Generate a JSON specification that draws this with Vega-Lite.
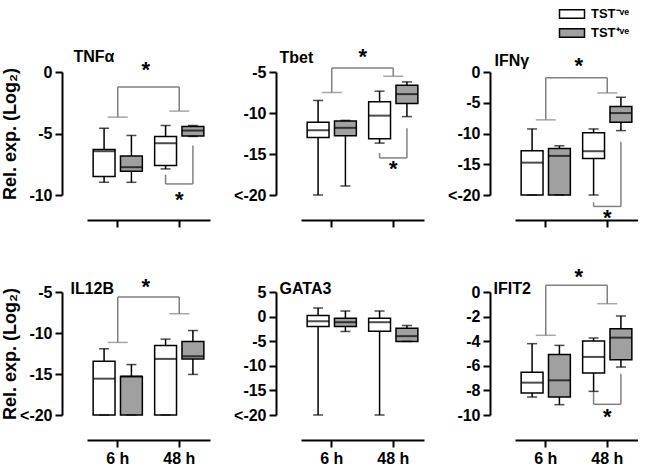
{
"$schema": "https://vega.github.io/schema/vega-lite/v6.json",
"padding": {"left": 1, "top": 3, "right": 0, "bottom": 0},
"datasets": {
"boxes": [
{"gene":"TNFα","time":"6 h","group":"TST⁻ᵛᵉ","min":-8.97,"q1":-8.5,"median":-6.44,"q3":-6.3,"max":-4.57},
{"gene":"TNFα","time":"6 h","group":"TST⁺ᵛᵉ","min":-8.97,"q1":-8.07,"median":-7.74,"q3":-6.82,"max":-5.16},
{"gene":"TNFα","time":"48 h","group":"TST⁻ᵛᵉ","min":-7.88,"q1":-7.6,"median":-5.79,"q3":-5.24,"max":-4.35},
{"gene":"TNFα","time":"48 h","group":"TST⁺ᵛᵉ","min":-5.24,"q1":-5.2,"median":-4.76,"q3":-4.43,"max":-4.35},
{"gene":"Tbet","time":"6 h","group":"TST⁻ᵛᵉ","min":-20,"q1":-12.98,"median":-12.1,"q3":-11.13,"max":-8.47},
{"gene":"Tbet","time":"6 h","group":"TST⁺ᵛᵉ","min":-18.9,"q1":-12.78,"median":-11.81,"q3":-10.97,"max":-10.9},
{"gene":"Tbet","time":"48 h","group":"TST⁻ᵛᵉ","min":-13.67,"q1":-13.15,"median":-10.32,"q3":-8.63,"max":-7.34},
{"gene":"Tbet","time":"48 h","group":"TST⁺ᵛᵉ","min":-10.44,"q1":-8.83,"median":-7.7,"q3":-6.61,"max":-6.21},
{"gene":"IFNγ","time":"6 h","group":"TST⁻ᵛᵉ","min":-20,"q1":-20,"median":-14.74,"q3":-12.82,"max":-9.26},
{"gene":"IFNγ","time":"6 h","group":"TST⁺ᵛᵉ","min":-20,"q1":-20,"median":-13.64,"q3":-12.44,"max":-12.0},
{"gene":"IFNγ","time":"48 h","group":"TST⁻ᵛᵉ","min":-20,"q1":-14.08,"median":-12.88,"q3":-9.86,"max":-9.26},
{"gene":"IFNγ","time":"48 h","group":"TST⁺ᵛᵉ","min":-9.53,"q1":-8.16,"median":-6.68,"q3":-5.59,"max":-4.11},
{"gene":"IL12B","time":"6 h","group":"TST⁻ᵛᵉ","min":-20,"q1":-20,"median":-15.57,"q3":-13.44,"max":-11.92},
{"gene":"IL12B","time":"6 h","group":"TST⁺ᵛᵉ","min":-20,"q1":-20,"median":-15.29,"q3":-15.29,"max":-13.85},
{"gene":"IL12B","time":"48 h","group":"TST⁻ᵛᵉ","min":-20,"q1":-20,"median":-13.16,"q3":-11.51,"max":-10.75},
{"gene":"IL12B","time":"48 h","group":"TST⁺ᵛᵉ","min":-15.05,"q1":-13.16,"median":-12.84,"q3":-11.03,"max":-9.7},
{"gene":"GATA3","time":"6 h","group":"TST⁻ᵛᵉ","min":-20,"q1":-2.0,"median":-0.94,"q3":0.2,"max":1.75},
{"gene":"GATA3","time":"6 h","group":"TST⁺ᵛᵉ","min":-3.02,"q1":-2.0,"median":-1.14,"q3":-0.34,"max":1.14},
{"gene":"GATA3","time":"48 h","group":"TST⁻ᵛᵉ","min":-20,"q1":-2.96,"median":-1.14,"q3":-0.34,"max":1.14},
{"gene":"GATA3","time":"48 h","group":"TST⁺ᵛᵉ","min":-5.04,"q1":-5.04,"median":-3.97,"q3":-2.35,"max":-1.81},
{"gene":"IFIT2","time":"6 h","group":"TST⁻ᵛᵉ","min":-8.54,"q1":-8.21,"median":-7.37,"q3":-6.53,"max":-4.2},
{"gene":"IFIT2","time":"6 h","group":"TST⁺ᵛᵉ","min":-9.16,"q1":-8.54,"median":-7.18,"q3":-5.09,"max":-4.34},
{"gene":"IFIT2","time":"48 h","group":"TST⁻ᵛᵉ","min":-8.08,"q1":-6.59,"median":-5.28,"q3":-3.98,"max":-3.74},
{"gene":"IFIT2","time":"48 h","group":"TST⁺ᵛᵉ","min":-6.1,"q1":-5.5,"median":-3.71,"q3":-2.98,"max":-1.95}
],
"legs": [
{"gene":"TNFα","bracket":"time","time":"6 h","hi":-1.22,"lo":-3.67},
{"gene":"TNFα","bracket":"time","time":"48 h","hi":-1.22,"lo":-3.18},
{"gene":"TNFα","bracket":"group","time":"48 h","group":"TST⁻ᵛᵉ","hi":-8.35,"lo":-9.1},
{"gene":"TNFα","bracket":"group","time":"48 h","group":"TST⁺ᵛᵉ","hi":-5.98,"lo":-9.1},
{"gene":"Tbet","bracket":"time","time":"6 h","hi":-4.52,"lo":-7.5},
{"gene":"Tbet","bracket":"time","time":"48 h","hi":-4.52,"lo":-5.52},
{"gene":"Tbet","bracket":"group","time":"48 h","group":"TST⁻ᵛᵉ","hi":-14.88,"lo":-15.48},
{"gene":"Tbet","bracket":"group","time":"48 h","group":"TST⁺ᵛᵉ","hi":-11.85,"lo":-15.48},
{"gene":"IFNγ","bracket":"time","time":"6 h","hi":-0.93,"lo":-7.78},
{"gene":"IFNγ","bracket":"time","time":"48 h","hi":-0.93,"lo":-3.4},
{"gene":"IFNγ","bracket":"group","time":"48 h","group":"TST⁻ᵛᵉ","hi":-21.2,"lo":-21.86},
{"gene":"IFNγ","bracket":"group","time":"48 h","group":"TST⁺ᵛᵉ","hi":-11.34,"lo":-21.86},
{"gene":"IL12B","bracket":"time","time":"6 h","hi":-5.6,"lo":-11.15},
{"gene":"IL12B","bracket":"time","time":"48 h","hi":-5.6,"lo":-7.65},
{"gene":"IFIT2","bracket":"time","time":"6 h","hi":0.54,"lo":-3.52},
{"gene":"IFIT2","bracket":"time","time":"48 h","hi":0.54,"lo":-0.95},
{"gene":"IFIT2","bracket":"group","time":"48 h","group":"TST⁻ᵛᵉ","hi":-8.13,"lo":-9.13},
{"gene":"IFIT2","bracket":"group","time":"48 h","group":"TST⁺ᵛᵉ","hi":-6.64,"lo":-9.13}
],
"stars": [
{"gene":"TNFα","kind":"time","time":"6 h","y":0.41,"label":"*"},
{"gene":"TNFα","kind":"group","time":"48 h","y":-10.2,"label":"*"},
{"gene":"Tbet","kind":"time","time":"6 h","y":-2.78,"label":"*"},
{"gene":"Tbet","kind":"group","time":"48 h","y":-16.5,"label":"*"},
{"gene":"IFNγ","kind":"time","time":"6 h","y":1.53,"label":"*"},
{"gene":"IFNγ","kind":"group","time":"48 h","y":-23.3,"label":"*"},
{"gene":"IL12B","kind":"time","time":"6 h","y":-4.0,"label":"*"},
{"gene":"IFIT2","kind":"time","time":"6 h","y":1.44,"label":"*"},
{"gene":"IFIT2","kind":"group","time":"48 h","y":-9.9,"label":"*"}
]
},
"columns": 3,
"spacing": {"row": 97, "column": 91},
"bounds": "flush",
"concat": [
{
"width": 123, "height": 123,
"encoding": {"x": {"field":"time","type":"nominal","sort":["6 h","48 h"],"scale":{"domain":["6 h","48 h"],"paddingInner":0.2,"paddingOuter":0.1},"title":"TNFα","axis":{"labels":false,"titleX":-14,"titleY":-159,"titleAlign":"left","titleBaseline":"alphabetic","titleAngle":0}}},
"layer": [
{"data":{"name":"boxes"},"transform":[{"filter":"datum.gene === 'TNFα'"}],"mark":{"type":"rule","color":"black","strokeWidth":1.5},
 "encoding":{"xOffset":{"field":"group","type":"nominal","sort":["TST⁻ᵛᵉ","TST⁺ᵛᵉ"],"scale":{"domain":["TST⁻ᵛᵉ","TST⁺ᵛᵉ"],"paddingInner":0.2,"paddingOuter":0}},
 "y":{"field":"min","type":"quantitative","scale":{"domain":[-10,0],"nice":false,"zero":false},"title":"Rel. exp. (Log₂)","axis":{"values":[0,-5,-10],"tickCount":12,"labelOverlap":false,"labelExpr":"datum.value <= -20 ? '<-20' : '' + datum.value","titleX":-47,"titleBaseline":"alphabetic"}},"y2":{"field":"max"}}},
{"data":{"name":"boxes"},"transform":[{"filter":"datum.gene === 'TNFα'"}],"mark":{"type":"bar","stroke":"black","strokeWidth":1.5},
 "encoding":{"xOffset":{"field":"group","type":"nominal","sort":["TST⁻ᵛᵉ","TST⁺ᵛᵉ"],"scale":{"domain":["TST⁻ᵛᵉ","TST⁺ᵛᵉ"],"paddingInner":0.2,"paddingOuter":0}},
 "y":{"field":"q1","type":"quantitative","scale":{"domain":[-10,0],"nice":false,"zero":false},"title":"Rel. exp. (Log₂)"},"y2":{"field":"q3"},
 "fill":{"field":"group","type":"nominal","sort":["TST⁻ᵛᵉ","TST⁺ᵛᵉ"],"scale":{"domain":["TST⁻ᵛᵉ","TST⁺ᵛᵉ"],"range":["white","#a0a0a0"]},"title":null,"legend":{"orient":"none","legendX":474,"legendY":-69}}}},
{"data":{"name":"boxes"},"transform":[{"filter":"datum.gene === 'TNFα'"}],"mark":{"type":"tick","color":"black","size":10,"thickness":1.5},
 "encoding":{"xOffset":{"field":"group","type":"nominal","sort":["TST⁻ᵛᵉ","TST⁺ᵛᵉ"],"scale":{"domain":["TST⁻ᵛᵉ","TST⁺ᵛᵉ"],"paddingInner":0.2,"paddingOuter":0}},
 "y":{"field":"min","type":"quantitative","scale":{"domain":[-10,0],"nice":false,"zero":false},"title":"Rel. exp. (Log₂)"}}},
{"data":{"name":"boxes"},"transform":[{"filter":"datum.gene === 'TNFα'"}],"mark":{"type":"tick","color":"black","size":10,"thickness":1.5},
 "encoding":{"xOffset":{"field":"group","type":"nominal","sort":["TST⁻ᵛᵉ","TST⁺ᵛᵉ"],"scale":{"domain":["TST⁻ᵛᵉ","TST⁺ᵛᵉ"],"paddingInner":0.2,"paddingOuter":0}},
 "y":{"field":"max","type":"quantitative","scale":{"domain":[-10,0],"nice":false,"zero":false},"title":"Rel. exp. (Log₂)"}}},
{"data":{"name":"boxes"},"transform":[{"filter":"datum.gene === 'TNFα'"}],"mark":{"type":"tick","color":"black","size":22,"thickness":2},
 "encoding":{"xOffset":{"field":"group","type":"nominal","sort":["TST⁻ᵛᵉ","TST⁺ᵛᵉ"],"scale":{"domain":["TST⁻ᵛᵉ","TST⁺ᵛᵉ"],"paddingInner":0.2,"paddingOuter":0}},
 "y":{"field":"median","type":"quantitative","scale":{"domain":[-10,0],"nice":false,"zero":false},"title":"Rel. exp. (Log₂)"}}},
{"data":{"name":"legs"},"transform":[{"filter":"datum.gene === 'TNFα' && datum.bracket === 'time'"}],"mark":{"type":"rule","color":"#808080","strokeWidth":1.5},
 "encoding":{"y":{"field":"hi","type":"quantitative","scale":{"domain":[-10,0],"nice":false,"zero":false},"title":"Rel. exp. (Log₂)"},"y2":{"field":"lo"}}},
{"data":{"name":"legs"},"transform":[{"filter":"datum.gene === 'TNFα' && datum.bracket === 'time'"}],"mark":{"type":"tick","color":"#808080","size":20,"thickness":1.5},
 "encoding":{"y":{"field":"lo","type":"quantitative","scale":{"domain":[-10,0],"nice":false,"zero":false},"title":"Rel. exp. (Log₂)"}}},
{"data":{"name":"legs"},"transform":[{"filter":"datum.gene === 'TNFα' && datum.bracket === 'time'"}],"mark":{"type":"line","color":"#808080","strokeWidth":1.5},
 "encoding":{"y":{"field":"hi","type":"quantitative","scale":{"domain":[-10,0],"nice":false,"zero":false},"title":"Rel. exp. (Log₂)"}}},
{"data":{"name":"legs"},"transform":[{"filter":"datum.gene === 'TNFα' && datum.bracket === 'group'"}],"mark":{"type":"rule","color":"#808080","strokeWidth":1.5},
 "encoding":{"xOffset":{"field":"group","type":"nominal","sort":["TST⁻ᵛᵉ","TST⁺ᵛᵉ"],"scale":{"domain":["TST⁻ᵛᵉ","TST⁺ᵛᵉ"],"paddingInner":0.2,"paddingOuter":0}},
 "y":{"field":"hi","type":"quantitative","scale":{"domain":[-10,0],"nice":false,"zero":false},"title":"Rel. exp. (Log₂)"},"y2":{"field":"lo"}}},
{"data":{"name":"legs"},"transform":[{"filter":"datum.gene === 'TNFα' && datum.bracket === 'group'"}],"mark":{"type":"line","color":"#808080","strokeWidth":1.5},
 "encoding":{"xOffset":{"field":"group","type":"nominal","sort":["TST⁻ᵛᵉ","TST⁺ᵛᵉ"],"scale":{"domain":["TST⁻ᵛᵉ","TST⁺ᵛᵉ"],"paddingInner":0.2,"paddingOuter":0}},
 "y":{"field":"lo","type":"quantitative","scale":{"domain":[-10,0],"nice":false,"zero":false},"title":"Rel. exp. (Log₂)"}}},
{"data":{"name":"stars"},"transform":[{"filter":"datum.gene === 'TNFα' && datum.kind === 'time'"}],"mark":{"type":"text","fontSize":22,"fontWeight":"bold","font":"Liberation Sans","color":"black","dx":28,"dy":3},
 "encoding":{"y":{"field":"y","type":"quantitative","scale":{"domain":[-10,0],"nice":false,"zero":false},"title":"Rel. exp. (Log₂)"},"text":{"field":"label"}}},
{"data":{"name":"stars"},"transform":[{"filter":"datum.gene === 'TNFα' && datum.kind === 'group'"}],"mark":{"type":"text","fontSize":22,"fontWeight":"bold","font":"Liberation Sans","color":"black","dy":3},
 "encoding":{"y":{"field":"y","type":"quantitative","scale":{"domain":[-10,0],"nice":false,"zero":false},"title":"Rel. exp. (Log₂)"},"text":{"field":"label"}}}
]
},
{
"width": 123, "height": 123,
"encoding": {"x": {"field":"time","type":"nominal","sort":["6 h","48 h"],"scale":{"domain":["6 h","48 h"],"paddingInner":0.2,"paddingOuter":0.1},"title":"Tbet","axis":{"labels":false,"titleX":-22,"titleY":-158,"titleAlign":"left","titleBaseline":"alphabetic","titleAngle":0}}},
"layer": [
{"data":{"name":"boxes"},"transform":[{"filter":"datum.gene === 'Tbet'"}],"mark":{"type":"rule","color":"black","strokeWidth":1.5},
 "encoding":{"xOffset":{"field":"group","type":"nominal","sort":["TST⁻ᵛᵉ","TST⁺ᵛᵉ"],"scale":{"domain":["TST⁻ᵛᵉ","TST⁺ᵛᵉ"],"paddingInner":0.2,"paddingOuter":0}},
 "y":{"field":"min","type":"quantitative","scale":{"domain":[-20,-5],"nice":false,"zero":false},"title":null,"axis":{"values":[-5,-10,-15,-20],"tickCount":12,"labelOverlap":false,"labelExpr":"datum.value <= -20 ? '<-20' : '' + datum.value"}},"y2":{"field":"max"}}},
{"data":{"name":"boxes"},"transform":[{"filter":"datum.gene === 'Tbet'"}],"mark":{"type":"bar","stroke":"black","strokeWidth":1.5},
 "encoding":{"xOffset":{"field":"group","type":"nominal","sort":["TST⁻ᵛᵉ","TST⁺ᵛᵉ"],"scale":{"domain":["TST⁻ᵛᵉ","TST⁺ᵛᵉ"],"paddingInner":0.2,"paddingOuter":0}},
 "y":{"field":"q1","type":"quantitative","scale":{"domain":[-20,-5],"nice":false,"zero":false},"title":null},"y2":{"field":"q3"},
 "fill":{"field":"group","type":"nominal","sort":["TST⁻ᵛᵉ","TST⁺ᵛᵉ"],"scale":{"domain":["TST⁻ᵛᵉ","TST⁺ᵛᵉ"],"range":["white","#a0a0a0"]},"title":null,"legend":{"orient":"none","legendX":474,"legendY":-69}}}},
{"data":{"name":"boxes"},"transform":[{"filter":"datum.gene === 'Tbet'"}],"mark":{"type":"tick","color":"black","size":10,"thickness":1.5},
 "encoding":{"xOffset":{"field":"group","type":"nominal","sort":["TST⁻ᵛᵉ","TST⁺ᵛᵉ"],"scale":{"domain":["TST⁻ᵛᵉ","TST⁺ᵛᵉ"],"paddingInner":0.2,"paddingOuter":0}},
 "y":{"field":"min","type":"quantitative","scale":{"domain":[-20,-5],"nice":false,"zero":false},"title":null}}},
{"data":{"name":"boxes"},"transform":[{"filter":"datum.gene === 'Tbet'"}],"mark":{"type":"tick","color":"black","size":10,"thickness":1.5},
 "encoding":{"xOffset":{"field":"group","type":"nominal","sort":["TST⁻ᵛᵉ","TST⁺ᵛᵉ"],"scale":{"domain":["TST⁻ᵛᵉ","TST⁺ᵛᵉ"],"paddingInner":0.2,"paddingOuter":0}},
 "y":{"field":"max","type":"quantitative","scale":{"domain":[-20,-5],"nice":false,"zero":false},"title":null}}},
{"data":{"name":"boxes"},"transform":[{"filter":"datum.gene === 'Tbet'"}],"mark":{"type":"tick","color":"black","size":22,"thickness":2},
 "encoding":{"xOffset":{"field":"group","type":"nominal","sort":["TST⁻ᵛᵉ","TST⁺ᵛᵉ"],"scale":{"domain":["TST⁻ᵛᵉ","TST⁺ᵛᵉ"],"paddingInner":0.2,"paddingOuter":0}},
 "y":{"field":"median","type":"quantitative","scale":{"domain":[-20,-5],"nice":false,"zero":false},"title":null}}},
{"data":{"name":"legs"},"transform":[{"filter":"datum.gene === 'Tbet' && datum.bracket === 'time'"}],"mark":{"type":"rule","color":"#808080","strokeWidth":1.5},
 "encoding":{"y":{"field":"hi","type":"quantitative","scale":{"domain":[-20,-5],"nice":false,"zero":false},"title":null},"y2":{"field":"lo"}}},
{"data":{"name":"legs"},"transform":[{"filter":"datum.gene === 'Tbet' && datum.bracket === 'time'"}],"mark":{"type":"tick","color":"#808080","size":20,"thickness":1.5},
 "encoding":{"y":{"field":"lo","type":"quantitative","scale":{"domain":[-20,-5],"nice":false,"zero":false},"title":null}}},
{"data":{"name":"legs"},"transform":[{"filter":"datum.gene === 'Tbet' && datum.bracket === 'time'"}],"mark":{"type":"line","color":"#808080","strokeWidth":1.5},
 "encoding":{"y":{"field":"hi","type":"quantitative","scale":{"domain":[-20,-5],"nice":false,"zero":false},"title":null}}},
{"data":{"name":"legs"},"transform":[{"filter":"datum.gene === 'Tbet' && datum.bracket === 'group'"}],"mark":{"type":"rule","color":"#808080","strokeWidth":1.5},
 "encoding":{"xOffset":{"field":"group","type":"nominal","sort":["TST⁻ᵛᵉ","TST⁺ᵛᵉ"],"scale":{"domain":["TST⁻ᵛᵉ","TST⁺ᵛᵉ"],"paddingInner":0.2,"paddingOuter":0}},
 "y":{"field":"hi","type":"quantitative","scale":{"domain":[-20,-5],"nice":false,"zero":false},"title":null},"y2":{"field":"lo"}}},
{"data":{"name":"legs"},"transform":[{"filter":"datum.gene === 'Tbet' && datum.bracket === 'group'"}],"mark":{"type":"line","color":"#808080","strokeWidth":1.5},
 "encoding":{"xOffset":{"field":"group","type":"nominal","sort":["TST⁻ᵛᵉ","TST⁺ᵛᵉ"],"scale":{"domain":["TST⁻ᵛᵉ","TST⁺ᵛᵉ"],"paddingInner":0.2,"paddingOuter":0}},
 "y":{"field":"lo","type":"quantitative","scale":{"domain":[-20,-5],"nice":false,"zero":false},"title":null}}},
{"data":{"name":"stars"},"transform":[{"filter":"datum.gene === 'Tbet' && datum.kind === 'time'"}],"mark":{"type":"text","fontSize":22,"fontWeight":"bold","font":"Liberation Sans","color":"black","dx":31,"dy":3},
 "encoding":{"y":{"field":"y","type":"quantitative","scale":{"domain":[-20,-5],"nice":false,"zero":false},"title":null},"text":{"field":"label"}}},
{"data":{"name":"stars"},"transform":[{"filter":"datum.gene === 'Tbet' && datum.kind === 'group'"}],"mark":{"type":"text","fontSize":22,"fontWeight":"bold","font":"Liberation Sans","color":"black","dy":3},
 "encoding":{"y":{"field":"y","type":"quantitative","scale":{"domain":[-20,-5],"nice":false,"zero":false},"title":null},"text":{"field":"label"}}}
]
},
{
"width": 123, "height": 123,
"encoding": {"x": {"field":"time","type":"nominal","sort":["6 h","48 h"],"scale":{"domain":["6 h","48 h"],"paddingInner":0.2,"paddingOuter":0.1},"title":"IFNγ","axis":{"labels":false,"titleX":-21,"titleY":-155,"titleAlign":"left","titleBaseline":"alphabetic","titleAngle":0}}},
"layer": [
{"data":{"name":"boxes"},"transform":[{"filter":"datum.gene === 'IFNγ'"}],"mark":{"type":"rule","color":"black","strokeWidth":1.5},
 "encoding":{"xOffset":{"field":"group","type":"nominal","sort":["TST⁻ᵛᵉ","TST⁺ᵛᵉ"],"scale":{"domain":["TST⁻ᵛᵉ","TST⁺ᵛᵉ"],"paddingInner":0.2,"paddingOuter":0}},
 "y":{"field":"min","type":"quantitative","scale":{"domain":[-20,0],"nice":false,"zero":false},"title":null,"axis":{"values":[0,-5,-10,-15,-20],"tickCount":12,"labelOverlap":false,"labelExpr":"datum.value <= -20 ? '<-20' : '' + datum.value"}},"y2":{"field":"max"}}},
{"data":{"name":"boxes"},"transform":[{"filter":"datum.gene === 'IFNγ'"}],"mark":{"type":"bar","stroke":"black","strokeWidth":1.5},
 "encoding":{"xOffset":{"field":"group","type":"nominal","sort":["TST⁻ᵛᵉ","TST⁺ᵛᵉ"],"scale":{"domain":["TST⁻ᵛᵉ","TST⁺ᵛᵉ"],"paddingInner":0.2,"paddingOuter":0}},
 "y":{"field":"q1","type":"quantitative","scale":{"domain":[-20,0],"nice":false,"zero":false},"title":null},"y2":{"field":"q3"},
 "fill":{"field":"group","type":"nominal","sort":["TST⁻ᵛᵉ","TST⁺ᵛᵉ"],"scale":{"domain":["TST⁻ᵛᵉ","TST⁺ᵛᵉ"],"range":["white","#a0a0a0"]},"title":null,"legend":{"orient":"none","legendX":474,"legendY":-69}}}},
{"data":{"name":"boxes"},"transform":[{"filter":"datum.gene === 'IFNγ'"}],"mark":{"type":"tick","color":"black","size":10,"thickness":1.5},
 "encoding":{"xOffset":{"field":"group","type":"nominal","sort":["TST⁻ᵛᵉ","TST⁺ᵛᵉ"],"scale":{"domain":["TST⁻ᵛᵉ","TST⁺ᵛᵉ"],"paddingInner":0.2,"paddingOuter":0}},
 "y":{"field":"min","type":"quantitative","scale":{"domain":[-20,0],"nice":false,"zero":false},"title":null}}},
{"data":{"name":"boxes"},"transform":[{"filter":"datum.gene === 'IFNγ'"}],"mark":{"type":"tick","color":"black","size":10,"thickness":1.5},
 "encoding":{"xOffset":{"field":"group","type":"nominal","sort":["TST⁻ᵛᵉ","TST⁺ᵛᵉ"],"scale":{"domain":["TST⁻ᵛᵉ","TST⁺ᵛᵉ"],"paddingInner":0.2,"paddingOuter":0}},
 "y":{"field":"max","type":"quantitative","scale":{"domain":[-20,0],"nice":false,"zero":false},"title":null}}},
{"data":{"name":"boxes"},"transform":[{"filter":"datum.gene === 'IFNγ'"}],"mark":{"type":"tick","color":"black","size":22,"thickness":2},
 "encoding":{"xOffset":{"field":"group","type":"nominal","sort":["TST⁻ᵛᵉ","TST⁺ᵛᵉ"],"scale":{"domain":["TST⁻ᵛᵉ","TST⁺ᵛᵉ"],"paddingInner":0.2,"paddingOuter":0}},
 "y":{"field":"median","type":"quantitative","scale":{"domain":[-20,0],"nice":false,"zero":false},"title":null}}},
{"data":{"name":"legs"},"transform":[{"filter":"datum.gene === 'IFNγ' && datum.bracket === 'time'"}],"mark":{"type":"rule","color":"#808080","strokeWidth":1.5},
 "encoding":{"y":{"field":"hi","type":"quantitative","scale":{"domain":[-20,0],"nice":false,"zero":false},"title":null},"y2":{"field":"lo"}}},
{"data":{"name":"legs"},"transform":[{"filter":"datum.gene === 'IFNγ' && datum.bracket === 'time'"}],"mark":{"type":"tick","color":"#808080","size":20,"thickness":1.5},
 "encoding":{"y":{"field":"lo","type":"quantitative","scale":{"domain":[-20,0],"nice":false,"zero":false},"title":null}}},
{"data":{"name":"legs"},"transform":[{"filter":"datum.gene === 'IFNγ' && datum.bracket === 'time'"}],"mark":{"type":"line","color":"#808080","strokeWidth":1.5},
 "encoding":{"y":{"field":"hi","type":"quantitative","scale":{"domain":[-20,0],"nice":false,"zero":false},"title":null}}},
{"data":{"name":"legs"},"transform":[{"filter":"datum.gene === 'IFNγ' && datum.bracket === 'group'"}],"mark":{"type":"rule","color":"#808080","strokeWidth":1.5},
 "encoding":{"xOffset":{"field":"group","type":"nominal","sort":["TST⁻ᵛᵉ","TST⁺ᵛᵉ"],"scale":{"domain":["TST⁻ᵛᵉ","TST⁺ᵛᵉ"],"paddingInner":0.2,"paddingOuter":0}},
 "y":{"field":"hi","type":"quantitative","scale":{"domain":[-20,0],"nice":false,"zero":false},"title":null},"y2":{"field":"lo"}}},
{"data":{"name":"legs"},"transform":[{"filter":"datum.gene === 'IFNγ' && datum.bracket === 'group'"}],"mark":{"type":"line","color":"#808080","strokeWidth":1.5},
 "encoding":{"xOffset":{"field":"group","type":"nominal","sort":["TST⁻ᵛᵉ","TST⁺ᵛᵉ"],"scale":{"domain":["TST⁻ᵛᵉ","TST⁺ᵛᵉ"],"paddingInner":0.2,"paddingOuter":0}},
 "y":{"field":"lo","type":"quantitative","scale":{"domain":[-20,0],"nice":false,"zero":false},"title":null}}},
{"data":{"name":"stars"},"transform":[{"filter":"datum.gene === 'IFNγ' && datum.kind === 'time'"}],"mark":{"type":"text","fontSize":22,"fontWeight":"bold","font":"Liberation Sans","color":"black","dx":33,"dy":3},
 "encoding":{"y":{"field":"y","type":"quantitative","scale":{"domain":[-20,0],"nice":false,"zero":false},"title":null},"text":{"field":"label"}}},
{"data":{"name":"stars"},"transform":[{"filter":"datum.gene === 'IFNγ' && datum.kind === 'group'"}],"mark":{"type":"text","fontSize":22,"fontWeight":"bold","font":"Liberation Sans","color":"black","dy":3},
 "encoding":{"y":{"field":"y","type":"quantitative","scale":{"domain":[-20,0],"nice":false,"zero":false},"title":null},"text":{"field":"label"}}}
]
},
{
"width": 123, "height": 123,
"encoding": {"x": {"field":"time","type":"nominal","sort":["6 h","48 h"],"scale":{"domain":["6 h","48 h"],"paddingInner":0.2,"paddingOuter":0.1},"title":"IL12B","axis":{"labels":true,"titleX":-17,"titleY":-147,"titleAlign":"left","titleBaseline":"alphabetic","titleAngle":0}}},
"layer": [
{"data":{"name":"boxes"},"transform":[{"filter":"datum.gene === 'IL12B'"}],"mark":{"type":"rule","color":"black","strokeWidth":1.5},
 "encoding":{"xOffset":{"field":"group","type":"nominal","sort":["TST⁻ᵛᵉ","TST⁺ᵛᵉ"],"scale":{"domain":["TST⁻ᵛᵉ","TST⁺ᵛᵉ"],"paddingInner":0.2,"paddingOuter":0}},
 "y":{"field":"min","type":"quantitative","scale":{"domain":[-20,-5],"nice":false,"zero":false},"title":"Rel. exp. (Log₂)","axis":{"values":[-5,-10,-15,-20],"tickCount":12,"labelOverlap":false,"labelExpr":"datum.value <= -20 ? '<-20' : '' + datum.value","titleX":-47,"titleBaseline":"alphabetic"}},"y2":{"field":"max"}}},
{"data":{"name":"boxes"},"transform":[{"filter":"datum.gene === 'IL12B'"}],"mark":{"type":"bar","stroke":"black","strokeWidth":1.5},
 "encoding":{"xOffset":{"field":"group","type":"nominal","sort":["TST⁻ᵛᵉ","TST⁺ᵛᵉ"],"scale":{"domain":["TST⁻ᵛᵉ","TST⁺ᵛᵉ"],"paddingInner":0.2,"paddingOuter":0}},
 "y":{"field":"q1","type":"quantitative","scale":{"domain":[-20,-5],"nice":false,"zero":false},"title":"Rel. exp. (Log₂)"},"y2":{"field":"q3"},
 "fill":{"field":"group","type":"nominal","sort":["TST⁻ᵛᵉ","TST⁺ᵛᵉ"],"scale":{"domain":["TST⁻ᵛᵉ","TST⁺ᵛᵉ"],"range":["white","#a0a0a0"]},"title":null,"legend":{"orient":"none","legendX":474,"legendY":-69}}}},
{"data":{"name":"boxes"},"transform":[{"filter":"datum.gene === 'IL12B'"}],"mark":{"type":"tick","color":"black","size":10,"thickness":1.5},
 "encoding":{"xOffset":{"field":"group","type":"nominal","sort":["TST⁻ᵛᵉ","TST⁺ᵛᵉ"],"scale":{"domain":["TST⁻ᵛᵉ","TST⁺ᵛᵉ"],"paddingInner":0.2,"paddingOuter":0}},
 "y":{"field":"min","type":"quantitative","scale":{"domain":[-20,-5],"nice":false,"zero":false},"title":"Rel. exp. (Log₂)"}}},
{"data":{"name":"boxes"},"transform":[{"filter":"datum.gene === 'IL12B'"}],"mark":{"type":"tick","color":"black","size":10,"thickness":1.5},
 "encoding":{"xOffset":{"field":"group","type":"nominal","sort":["TST⁻ᵛᵉ","TST⁺ᵛᵉ"],"scale":{"domain":["TST⁻ᵛᵉ","TST⁺ᵛᵉ"],"paddingInner":0.2,"paddingOuter":0}},
 "y":{"field":"max","type":"quantitative","scale":{"domain":[-20,-5],"nice":false,"zero":false},"title":"Rel. exp. (Log₂)"}}},
{"data":{"name":"boxes"},"transform":[{"filter":"datum.gene === 'IL12B'"}],"mark":{"type":"tick","color":"black","size":22,"thickness":2},
 "encoding":{"xOffset":{"field":"group","type":"nominal","sort":["TST⁻ᵛᵉ","TST⁺ᵛᵉ"],"scale":{"domain":["TST⁻ᵛᵉ","TST⁺ᵛᵉ"],"paddingInner":0.2,"paddingOuter":0}},
 "y":{"field":"median","type":"quantitative","scale":{"domain":[-20,-5],"nice":false,"zero":false},"title":"Rel. exp. (Log₂)"}}},
{"data":{"name":"legs"},"transform":[{"filter":"datum.gene === 'IL12B' && datum.bracket === 'time'"}],"mark":{"type":"rule","color":"#808080","strokeWidth":1.5},
 "encoding":{"y":{"field":"hi","type":"quantitative","scale":{"domain":[-20,-5],"nice":false,"zero":false},"title":"Rel. exp. (Log₂)"},"y2":{"field":"lo"}}},
{"data":{"name":"legs"},"transform":[{"filter":"datum.gene === 'IL12B' && datum.bracket === 'time'"}],"mark":{"type":"tick","color":"#808080","size":20,"thickness":1.5},
 "encoding":{"y":{"field":"lo","type":"quantitative","scale":{"domain":[-20,-5],"nice":false,"zero":false},"title":"Rel. exp. (Log₂)"}}},
{"data":{"name":"legs"},"transform":[{"filter":"datum.gene === 'IL12B' && datum.bracket === 'time'"}],"mark":{"type":"line","color":"#808080","strokeWidth":1.5},
 "encoding":{"y":{"field":"hi","type":"quantitative","scale":{"domain":[-20,-5],"nice":false,"zero":false},"title":"Rel. exp. (Log₂)"}}},
{"data":{"name":"stars"},"transform":[{"filter":"datum.gene === 'IL12B' && datum.kind === 'time'"}],"mark":{"type":"text","fontSize":22,"fontWeight":"bold","font":"Liberation Sans","color":"black","dx":28,"dy":3},
 "encoding":{"y":{"field":"y","type":"quantitative","scale":{"domain":[-20,-5],"nice":false,"zero":false},"title":"Rel. exp. (Log₂)"},"text":{"field":"label"}}}
]
},
{
"width": 123, "height": 123,
"encoding": {"x": {"field":"time","type":"nominal","sort":["6 h","48 h"],"scale":{"domain":["6 h","48 h"],"paddingInner":0.2,"paddingOuter":0.1},"title":"GATA3","axis":{"labels":true,"titleX":-22,"titleY":-147,"titleAlign":"left","titleBaseline":"alphabetic","titleAngle":0}}},
"layer": [
{"data":{"name":"boxes"},"transform":[{"filter":"datum.gene === 'GATA3'"}],"mark":{"type":"rule","color":"black","strokeWidth":1.5},
 "encoding":{"xOffset":{"field":"group","type":"nominal","sort":["TST⁻ᵛᵉ","TST⁺ᵛᵉ"],"scale":{"domain":["TST⁻ᵛᵉ","TST⁺ᵛᵉ"],"paddingInner":0.2,"paddingOuter":0}},
 "y":{"field":"min","type":"quantitative","scale":{"domain":[-20,5],"nice":false,"zero":false},"title":null,"axis":{"values":[5,0,-5,-10,-15,-20],"tickCount":12,"labelOverlap":false,"labelExpr":"datum.value <= -20 ? '<-20' : '' + datum.value"}},"y2":{"field":"max"}}},
{"data":{"name":"boxes"},"transform":[{"filter":"datum.gene === 'GATA3'"}],"mark":{"type":"bar","stroke":"black","strokeWidth":1.5},
 "encoding":{"xOffset":{"field":"group","type":"nominal","sort":["TST⁻ᵛᵉ","TST⁺ᵛᵉ"],"scale":{"domain":["TST⁻ᵛᵉ","TST⁺ᵛᵉ"],"paddingInner":0.2,"paddingOuter":0}},
 "y":{"field":"q1","type":"quantitative","scale":{"domain":[-20,5],"nice":false,"zero":false},"title":null},"y2":{"field":"q3"},
 "fill":{"field":"group","type":"nominal","sort":["TST⁻ᵛᵉ","TST⁺ᵛᵉ"],"scale":{"domain":["TST⁻ᵛᵉ","TST⁺ᵛᵉ"],"range":["white","#a0a0a0"]},"title":null,"legend":{"orient":"none","legendX":474,"legendY":-69}}}},
{"data":{"name":"boxes"},"transform":[{"filter":"datum.gene === 'GATA3'"}],"mark":{"type":"tick","color":"black","size":10,"thickness":1.5},
 "encoding":{"xOffset":{"field":"group","type":"nominal","sort":["TST⁻ᵛᵉ","TST⁺ᵛᵉ"],"scale":{"domain":["TST⁻ᵛᵉ","TST⁺ᵛᵉ"],"paddingInner":0.2,"paddingOuter":0}},
 "y":{"field":"min","type":"quantitative","scale":{"domain":[-20,5],"nice":false,"zero":false},"title":null}}},
{"data":{"name":"boxes"},"transform":[{"filter":"datum.gene === 'GATA3'"}],"mark":{"type":"tick","color":"black","size":10,"thickness":1.5},
 "encoding":{"xOffset":{"field":"group","type":"nominal","sort":["TST⁻ᵛᵉ","TST⁺ᵛᵉ"],"scale":{"domain":["TST⁻ᵛᵉ","TST⁺ᵛᵉ"],"paddingInner":0.2,"paddingOuter":0}},
 "y":{"field":"max","type":"quantitative","scale":{"domain":[-20,5],"nice":false,"zero":false},"title":null}}},
{"data":{"name":"boxes"},"transform":[{"filter":"datum.gene === 'GATA3'"}],"mark":{"type":"tick","color":"black","size":22,"thickness":2},
 "encoding":{"xOffset":{"field":"group","type":"nominal","sort":["TST⁻ᵛᵉ","TST⁺ᵛᵉ"],"scale":{"domain":["TST⁻ᵛᵉ","TST⁺ᵛᵉ"],"paddingInner":0.2,"paddingOuter":0}},
 "y":{"field":"median","type":"quantitative","scale":{"domain":[-20,5],"nice":false,"zero":false},"title":null}}}
]
},
{
"width": 123, "height": 123,
"encoding": {"x": {"field":"time","type":"nominal","sort":["6 h","48 h"],"scale":{"domain":["6 h","48 h"],"paddingInner":0.2,"paddingOuter":0.1},"title":"IFIT2","axis":{"labels":true,"titleX":-22,"titleY":-147,"titleAlign":"left","titleBaseline":"alphabetic","titleAngle":0}}},
"layer": [
{"data":{"name":"boxes"},"transform":[{"filter":"datum.gene === 'IFIT2'"}],"mark":{"type":"rule","color":"black","strokeWidth":1.5},
 "encoding":{"xOffset":{"field":"group","type":"nominal","sort":["TST⁻ᵛᵉ","TST⁺ᵛᵉ"],"scale":{"domain":["TST⁻ᵛᵉ","TST⁺ᵛᵉ"],"paddingInner":0.2,"paddingOuter":0}},
 "y":{"field":"min","type":"quantitative","scale":{"domain":[-10,0],"nice":false,"zero":false},"title":null,"axis":{"values":[0,-2,-4,-6,-8,-10],"tickCount":12,"labelOverlap":false,"labelExpr":"datum.value <= -20 ? '<-20' : '' + datum.value"}},"y2":{"field":"max"}}},
{"data":{"name":"boxes"},"transform":[{"filter":"datum.gene === 'IFIT2'"}],"mark":{"type":"bar","stroke":"black","strokeWidth":1.5},
 "encoding":{"xOffset":{"field":"group","type":"nominal","sort":["TST⁻ᵛᵉ","TST⁺ᵛᵉ"],"scale":{"domain":["TST⁻ᵛᵉ","TST⁺ᵛᵉ"],"paddingInner":0.2,"paddingOuter":0}},
 "y":{"field":"q1","type":"quantitative","scale":{"domain":[-10,0],"nice":false,"zero":false},"title":null},"y2":{"field":"q3"},
 "fill":{"field":"group","type":"nominal","sort":["TST⁻ᵛᵉ","TST⁺ᵛᵉ"],"scale":{"domain":["TST⁻ᵛᵉ","TST⁺ᵛᵉ"],"range":["white","#a0a0a0"]},"title":null,"legend":{"orient":"none","legendX":474,"legendY":-69}}}},
{"data":{"name":"boxes"},"transform":[{"filter":"datum.gene === 'IFIT2'"}],"mark":{"type":"tick","color":"black","size":10,"thickness":1.5},
 "encoding":{"xOffset":{"field":"group","type":"nominal","sort":["TST⁻ᵛᵉ","TST⁺ᵛᵉ"],"scale":{"domain":["TST⁻ᵛᵉ","TST⁺ᵛᵉ"],"paddingInner":0.2,"paddingOuter":0}},
 "y":{"field":"min","type":"quantitative","scale":{"domain":[-10,0],"nice":false,"zero":false},"title":null}}},
{"data":{"name":"boxes"},"transform":[{"filter":"datum.gene === 'IFIT2'"}],"mark":{"type":"tick","color":"black","size":10,"thickness":1.5},
 "encoding":{"xOffset":{"field":"group","type":"nominal","sort":["TST⁻ᵛᵉ","TST⁺ᵛᵉ"],"scale":{"domain":["TST⁻ᵛᵉ","TST⁺ᵛᵉ"],"paddingInner":0.2,"paddingOuter":0}},
 "y":{"field":"max","type":"quantitative","scale":{"domain":[-10,0],"nice":false,"zero":false},"title":null}}},
{"data":{"name":"boxes"},"transform":[{"filter":"datum.gene === 'IFIT2'"}],"mark":{"type":"tick","color":"black","size":22,"thickness":2},
 "encoding":{"xOffset":{"field":"group","type":"nominal","sort":["TST⁻ᵛᵉ","TST⁺ᵛᵉ"],"scale":{"domain":["TST⁻ᵛᵉ","TST⁺ᵛᵉ"],"paddingInner":0.2,"paddingOuter":0}},
 "y":{"field":"median","type":"quantitative","scale":{"domain":[-10,0],"nice":false,"zero":false},"title":null}}},
{"data":{"name":"legs"},"transform":[{"filter":"datum.gene === 'IFIT2' && datum.bracket === 'time'"}],"mark":{"type":"rule","color":"#808080","strokeWidth":1.5},
 "encoding":{"y":{"field":"hi","type":"quantitative","scale":{"domain":[-10,0],"nice":false,"zero":false},"title":null},"y2":{"field":"lo"}}},
{"data":{"name":"legs"},"transform":[{"filter":"datum.gene === 'IFIT2' && datum.bracket === 'time'"}],"mark":{"type":"tick","color":"#808080","size":20,"thickness":1.5},
 "encoding":{"y":{"field":"lo","type":"quantitative","scale":{"domain":[-10,0],"nice":false,"zero":false},"title":null}}},
{"data":{"name":"legs"},"transform":[{"filter":"datum.gene === 'IFIT2' && datum.bracket === 'time'"}],"mark":{"type":"line","color":"#808080","strokeWidth":1.5},
 "encoding":{"y":{"field":"hi","type":"quantitative","scale":{"domain":[-10,0],"nice":false,"zero":false},"title":null}}},
{"data":{"name":"legs"},"transform":[{"filter":"datum.gene === 'IFIT2' && datum.bracket === 'group'"}],"mark":{"type":"rule","color":"#808080","strokeWidth":1.5},
 "encoding":{"xOffset":{"field":"group","type":"nominal","sort":["TST⁻ᵛᵉ","TST⁺ᵛᵉ"],"scale":{"domain":["TST⁻ᵛᵉ","TST⁺ᵛᵉ"],"paddingInner":0.2,"paddingOuter":0}},
 "y":{"field":"hi","type":"quantitative","scale":{"domain":[-10,0],"nice":false,"zero":false},"title":null},"y2":{"field":"lo"}}},
{"data":{"name":"legs"},"transform":[{"filter":"datum.gene === 'IFIT2' && datum.bracket === 'group'"}],"mark":{"type":"line","color":"#808080","strokeWidth":1.5},
 "encoding":{"xOffset":{"field":"group","type":"nominal","sort":["TST⁻ᵛᵉ","TST⁺ᵛᵉ"],"scale":{"domain":["TST⁻ᵛᵉ","TST⁺ᵛᵉ"],"paddingInner":0.2,"paddingOuter":0}},
 "y":{"field":"lo","type":"quantitative","scale":{"domain":[-10,0],"nice":false,"zero":false},"title":null}}},
{"data":{"name":"stars"},"transform":[{"filter":"datum.gene === 'IFIT2' && datum.kind === 'time'"}],"mark":{"type":"text","fontSize":22,"fontWeight":"bold","font":"Liberation Sans","color":"black","dx":33,"dy":3},
 "encoding":{"y":{"field":"y","type":"quantitative","scale":{"domain":[-10,0],"nice":false,"zero":false},"title":null},"text":{"field":"label"}}},
{"data":{"name":"stars"},"transform":[{"filter":"datum.gene === 'IFIT2' && datum.kind === 'group'"}],"mark":{"type":"text","fontSize":22,"fontWeight":"bold","font":"Liberation Sans","color":"black","dy":3},
 "encoding":{"y":{"field":"y","type":"quantitative","scale":{"domain":[-10,0],"nice":false,"zero":false},"title":null},"text":{"field":"label"}}}
]
}
],
"config": {
"view": {"stroke": null},
"font": "Liberation Sans",
"axis": {"domainColor": "black", "domainWidth": 2, "tickColor": "black", "tickWidth": 2, "tickSize": 7, "labelFont": "Liberation Sans", "labelFontWeight": "bold", "labelColor": "black", "grid": false, "titleFont": "Liberation Sans", "titleFontWeight": "bold", "titleColor": "black", "offset": 25},
"axisX": {"labelAngle": 0, "labelFontSize": 16, "labelPadding": 3, "titleFontSize": 16},
"axisY": {"labelFontSize": 16, "labelPadding": 3, "titleFontSize": 18, "labelFlush": false, "labelOverlap": false},
"legend": {"symbolType": "M-1.25,-0.42H1.25V0.42H-1.25Z", "symbolSize": 400, "symbolStrokeColor": "black", "symbolStrokeWidth": 1.5, "labelFont": "Liberation Sans", "labelFontSize": 13, "labelFontWeight": "bold", "labelColor": "black", "labelOffset": 8, "rowPadding": 0, "padding": 0}
}
}
